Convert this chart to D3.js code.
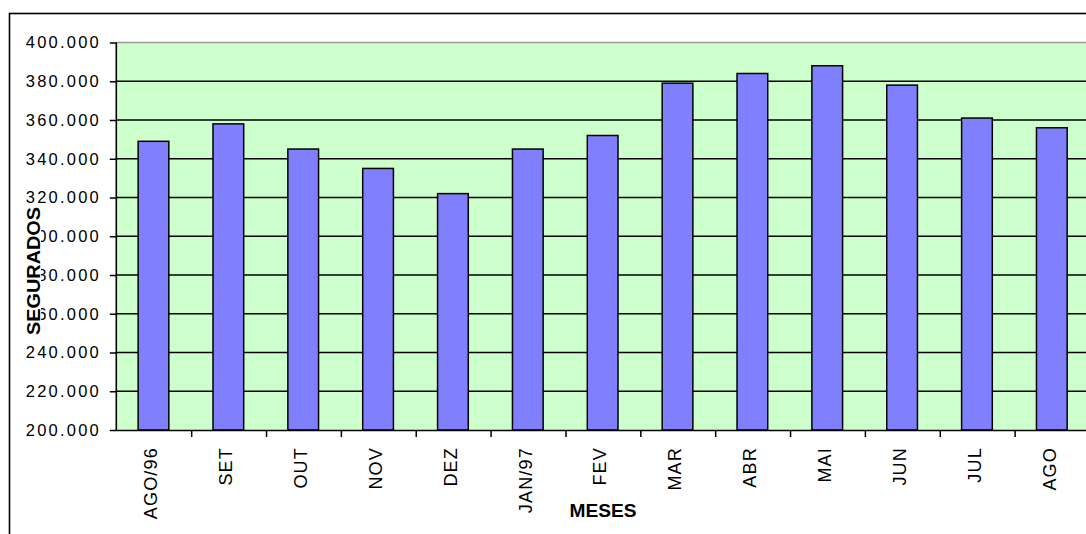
<!DOCTYPE html>
<html>
<head>
<meta charset="utf-8">
<script src="https://cdn.jsdelivr.net/npm/d3@7"></script>
<style>
  html, body { margin: 0; padding: 0; background: #ffffff; }
  svg { display: block; }
  text { font-family: "Liberation Sans", Arial, sans-serif; fill: #000; }
</style>
</head>
<body>
<svg id="chart" width="1086" height="534"></svg>
<script>
// ---- data ----
const months = ["AGO/96", "SET", "OUT", "NOV", "DEZ", "JAN/97", "FEV", "MAR", "ABR", "MAI", "JUN", "JUL", "AGO"];
const segurados = [349000, 358000, 345000, 335000, 322000, 345000, 352000, 379000, 384000, 388000, 378000, 361000, 356000];
const yTicks = [200000, 220000, 240000, 260000, 280000, 300000, 320000, 340000, 360000, 380000, 400000];
const yTitle = "SEGURADOS";
const xTitle = "MESES";

// ---- layout ----
const W = 1086, H = 534;
const plot = { left: 116.8, right: 1090, top: 42.5, bottom: 430 };

const svg = d3.select("#chart");
const fmt = d3.formatLocale({ decimal: ",", thousands: ".", grouping: [3], currency: ["", ""] }).format(",.0f");

// outer frame
svg.append("rect")
  .attr("x", 9.5).attr("y", 13.5)
  .attr("width", 1200).attr("height", 700)
  .attr("fill", "#fff").attr("stroke", "#000").attr("stroke-width", 1.6);

const x = d3.scaleBand().domain(months).range([plot.left, plot.right]).padding(0);
const y = d3.scaleLinear().domain([200000, 400000]).range([plot.bottom, plot.top]);

// plot background
svg.append("rect")
  .attr("x", plot.left).attr("y", plot.top)
  .attr("width", plot.right - plot.left).attr("height", plot.bottom - plot.top)
  .attr("fill", "#CCFFCC");

// top border (gray)
svg.append("line")
  .attr("x1", plot.left).attr("x2", plot.right)
  .attr("y1", y(400000)).attr("y2", y(400000))
  .attr("stroke", "#9a9a9a").attr("stroke-width", 1.5);

// gridlines
svg.append("g").selectAll("line")
  .data(yTicks.filter(v => v > 200000 && v < 400000))
  .join("line")
  .attr("x1", plot.left).attr("x2", plot.right)
  .attr("y1", d => y(d)).attr("y2", d => y(d))
  .attr("stroke", "#000").attr("stroke-width", 1.4);

// bars
const step = x.step();
svg.append("g").selectAll("rect")
  .data(months.map((m, i) => ({ m, v: segurados[i] })))
  .join("rect")
  .attr("x", d => x(d.m) + step * 0.285)
  .attr("width", step * 0.41)
  .attr("y", d => y(d.v))
  .attr("height", d => y(200000) - y(d.v))
  .attr("fill", "#8080FF")
  .attr("stroke", "#000")
  .attr("stroke-width", 1.5);

// y axis
const yAxis = d3.axisLeft(y).tickValues(yTicks).tickSize(7).tickFormat(fmt).tickPadding(10);
const gy = svg.append("g").attr("transform", `translate(${plot.left},0)`).call(yAxis);
gy.select(".domain").attr("stroke", "#000").attr("stroke-width", 1.6).attr("d", `M-0.5,${plot.top}V${plot.bottom}`);
gy.selectAll(".tick line").attr("stroke", "#000").attr("stroke-width", 1.5);
gy.selectAll(".tick text")
  .attr("font-size", 16.5)
  .attr("x", -18)
  .attr("textLength", 73)
  .attr("lengthAdjust", "spacing")
  .style("font-family", "'Liberation Sans', Arial, sans-serif")
  .attr("fill", "#111");

// x axis
const xAxis = d3.axisBottom(x).tickSize(0).tickFormat("");
const gx = svg.append("g").attr("transform", `translate(0,${plot.bottom})`).call(xAxis);
gx.select(".domain").attr("stroke", "#000").attr("stroke-width", 1.6).attr("d", `M${plot.left},0.5H${plot.right}`);
gx.selectAll(".tick").remove();
// category boundary ticks
svg.append("g").selectAll("line")
  .data(months.slice(1))
  .join("line")
  .attr("x1", d => x(d)).attr("x2", d => x(d))
  .attr("y1", plot.bottom).attr("y2", plot.bottom + 7)
  .attr("stroke", "#000").attr("stroke-width", 1.5);

// x labels (rotated)
svg.append("g").selectAll("text")
  .data(months)
  .join("text")
  .attr("transform", d => `translate(${x(d) + step / 2 - 3.5},${plot.bottom + 17}) rotate(-90)`)
  .attr("text-anchor", "end")
  .attr("dy", "0.36em")
  .attr("font-size", 18)
  .attr("letter-spacing", "1.2px")
  .attr("fill", "#111")
  .text(d => d);

// y title with white background
const yt = svg.append("g").attr("transform", "translate(33.5,271) rotate(-90)");
yt.append("rect").attr("x", -65).attr("y", -7.5).attr("width", 130).attr("height", 15).attr("fill", "#fff");
yt.append("text")
  .attr("text-anchor", "middle")
  .attr("dy", "0.36em")
  .attr("font-size", 18)
  .attr("font-weight", "bold")
  .attr("textLength", 128)
  .attr("lengthAdjust", "spacingAndGlyphs")
  .text(yTitle);

// x title
svg.append("text")
  .attr("x", 603).attr("y", 517)
  .attr("text-anchor", "middle")
  .attr("font-size", 19)
  .attr("font-weight", "bold")
  .attr("textLength", 67)
  .attr("lengthAdjust", "spacingAndGlyphs")
  .text(xTitle);
</script>
</body>
</html>
